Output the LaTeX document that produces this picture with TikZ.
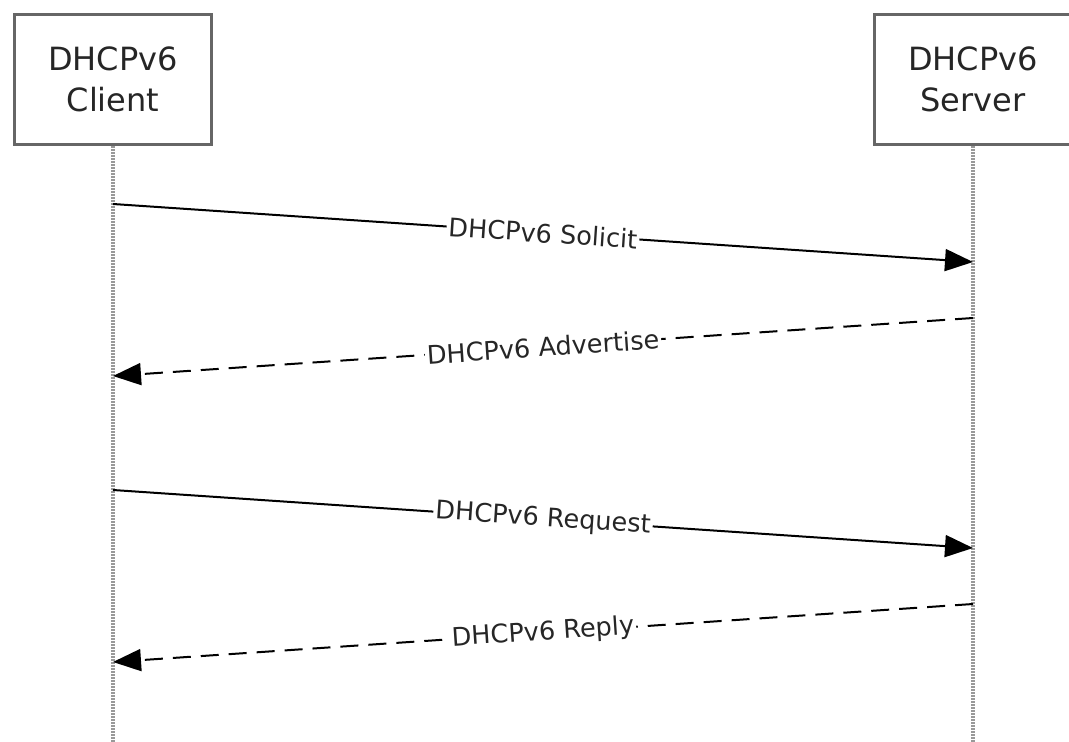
\documentclass[tikz,border=0pt]{standalone}
\usepackage{fontspec}
\setmainfont{DejaVu Sans}
\usetikzlibrary{arrows.meta,positioning}

\tikzset{
  actor/.style={draw=gray!80!black, line width=1.5pt, fill=white, minimum width=98.5pt, minimum height=65pt, align=center, text=black!85, font=\fontsize{16}{20.5}\selectfont},
  lifeline/.style={-, draw=gray!80, line width=1.6pt, dash pattern=on 1pt off 0.5pt},
  msg/.style={line width=1pt},
  answer/.style={line width=1pt, dash pattern=on 9pt off 5pt},
  lbl/.style={sloped, fill=white, inner sep=1pt, text=black!85, font=\fontsize{12.8}{15}\selectfont}
}

\begin{document}
\begin{tikzpicture}[x=0.5pt, y=-0.5pt, node distance=430pt, >={Triangle[length=14pt,width=11pt]}, ->]
\useasboundingbox (0,0) rectangle (1069,742);
\node (client) [actor] at (113,79.5) {DHCPv6\\Client};
\node (server) [actor, right of=client] {DHCPv6\\Server};
\coordinate (cend) at (113,742);
\coordinate (send) at (973,742);
\draw [lifeline] (client) -- (cend);
\draw [lifeline] (server) -- (send);
% message ends on the lifelines
\coordinate (c1) at (113,204);
\coordinate (s1) at (973,262);
\coordinate (s2) at (973,318);
\coordinate (c2) at (113,376);
\coordinate (c3) at (113,490);
\coordinate (s3) at (973,548);
\coordinate (s4) at (973,604);
\coordinate (c4) at (113,662);
\path (c1) edge[msg] node[lbl] {DHCPv6 Solicit} (s1);
\path (s2) edge[answer] node[lbl] {DHCPv6 Advertise} (c2);
\path (c3) edge[msg] node[lbl] {DHCPv6 Request} (s3);
\path (s4) edge[answer] node[lbl] {DHCPv6 Reply} (c4);
\end{tikzpicture}
\end{document}
